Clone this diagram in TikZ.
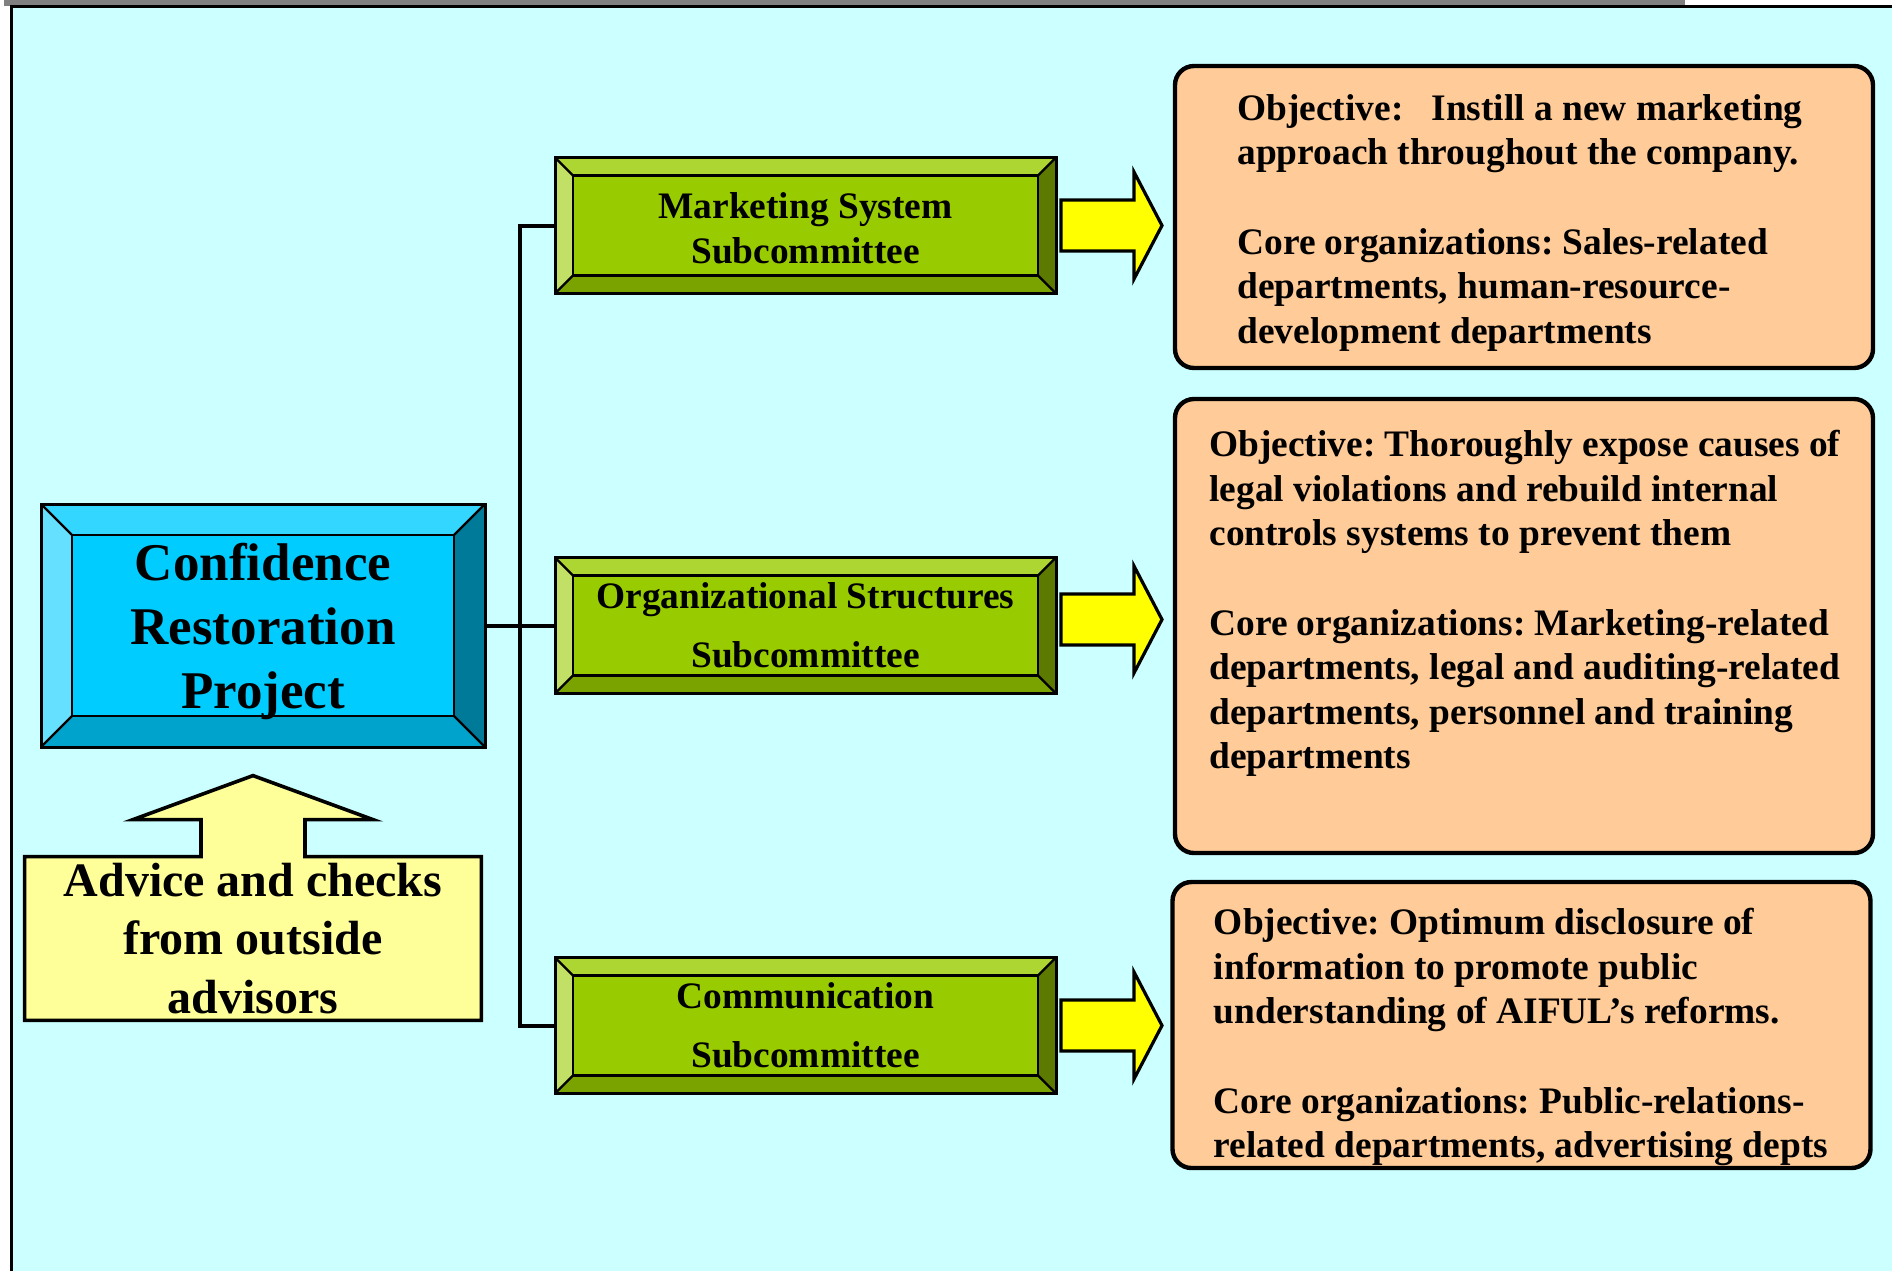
\documentclass[tikz,border=0pt]{standalone}
\usepackage{fontspec}
\setmainfont{Liberation Serif}
\usetikzlibrary{positioning, calc}
\definecolor{slideCyan}{HTML}{CCFFFF}
\definecolor{shadowGray}{HTML}{808080}
\definecolor{boxOrange}{HTML}{FFCC99}
\definecolor{arrowYellow}{HTML}{FFFF00}
\definecolor{adviceYellow}{HTML}{FFFF99}
% bevel shades, blue project box
\definecolor{bMid}{HTML}{00CCFF}
\definecolor{bTop}{HTML}{33D6FF}
\definecolor{bLeft}{HTML}{66E0FF}
\definecolor{bBot}{HTML}{00A3CC}
\definecolor{bRight}{HTML}{007A99}
% bevel shades, green subcommittees
\definecolor{gMid}{HTML}{99CC00}
\definecolor{gTop}{HTML}{ADD633}
\definecolor{gLeft}{HTML}{C2E066}
\definecolor{gBot}{HTML}{7AA300}
\definecolor{gRight}{HTML}{5C7A00}
\pgfdeclarelayer{back}
\pgfdeclarelayer{bevel}
\pgfsetlayers{back,bevel,main}

% #1 node, #2 bevel depth, #3 colour prefix
\newcommand{\bevelbox}[3]{%
  \begin{pgfonlayer}{bevel}
    \fill[#3Mid] (#1.north west) rectangle (#1.south east);
    \fill[#3Top] (#1.north west) -- (#1.north east) -- ([shift={(-#2,-#2)}]#1.north east) -- ([shift={(#2,-#2)}]#1.north west) -- cycle;
    \fill[#3Left] (#1.north west) -- ([shift={(#2,-#2)}]#1.north west) -- ([shift={(#2,#2)}]#1.south west) -- (#1.south west) -- cycle;
    \fill[#3Bot] (#1.south west) -- ([shift={(#2,#2)}]#1.south west) -- ([shift={(-#2,#2)}]#1.south east) -- (#1.south east) -- cycle;
    \fill[#3Right] (#1.north east) -- ([shift={(-#2,-#2)}]#1.north east) -- ([shift={(-#2,#2)}]#1.south east) -- (#1.south east) -- cycle;
    \draw[line width=1.2pt] ([shift={(#2,-#2)}]#1.north west) rectangle ([shift={(-#2,#2)}]#1.south east);
    \draw[line width=1.2pt] (#1.north west) -- ([shift={(#2,-#2)}]#1.north west)
      (#1.north east) -- ([shift={(-#2,-#2)}]#1.north east)
      (#1.south west) -- ([shift={(#2,#2)}]#1.south west)
      (#1.south east) -- ([shift={(-#2,#2)}]#1.south east);
  \end{pgfonlayer}}

% block arrow leaving a subcommittee, #2 lifts it
\newcommand{\yarrow}[2]{%
  \draw[yarr] ([shift={(2.5pt,12.75pt+#2)}]#1.east) -- ++(36.5pt,0pt) -- ++(0pt,14pt)
    -- ++(14pt,-26.75pt) -- ++(-14pt,-26.75pt) -- ++(0pt,14pt) -- ++(-36.5pt,0pt) -- cycle;}

\begin{document}
\frenchspacing
\begin{tikzpicture}[x=0.5pt, y=-0.5pt,
    bbox/.style={draw, line width=1.5pt, inner sep=0pt, outer sep=0pt, minimum width=222pt, minimum height=121.5pt, align=center, font=\fontsize{26.5}{32}\selectfont\bfseries},
    gbox/.style={draw, line width=1.5pt, inner sep=0pt, outer sep=0pt, minimum width=250.5pt, minimum height=68pt, align=center, font=\fontsize{18.7}{22.3}\selectfont\bfseries},
    obox/.style={draw, line width=2.2pt, rounded corners=9.5pt, fill=boxOrange, inner sep=0pt, outer sep=0pt, minimum width=349pt},
    otext/.style={align=left, inner sep=0pt, font=\fontsize{18.7}{22.3}\selectfont\bfseries},
    conn/.style={line width=2pt},
    yarr/.style={draw, line width=1.6pt, fill=arrowYellow},
    callout/.style={draw, line width=1.8pt, fill=adviceYellow}]
  \useasboundingbox (0,0) rectangle (1892,1271);
  \begin{pgfonlayer}{back}
    \fill[white] (0,0) rectangle (1892,1271);
    \fill[shadowGray] (4,0) rectangle (1685,6);
    \fill[slideCyan] (11.5,6.5) rectangle (1892,1271);
    \draw[line width=1.5pt] (11.5,1271) -- (11.5,6.5) -- (1892,6.5);
  \end{pgfonlayer}

  % project and subcommittees
  \node[bbox] (proj) at (263,625.5) {\rule{0pt}{25pt}Confidence\\Restoration\\Project};
  \node[gbox, right=35pt of proj] (org) {Organizational Structures\\[7pt]Subcommittee};
  \node[gbox, above=132pt of org] (mkt) {\rule{0pt}{16pt}Marketing System\\Subcommittee};
  \node[gbox, below=132pt of org] (com) {Communication\\[7pt]Subcommittee};
  \bevelbox{proj}{15.5pt}{b}
  \foreach \n in {mkt,org,com} {\bevelbox{\n}{9pt}{g}}

  \coordinate (trunk) at ($(proj.east)!0.5!(org.west)$);
  \draw[conn] (proj.east) -- (org.west);
  \draw[conn] (mkt.west) -| (trunk) |- (com.west);

  % outside advisors
  \node[align=center, inner sep=0pt, minimum width=228pt, minimum height=81.5pt,
        font=\fontsize{24}{29.3}\selectfont\bfseries] (advice) at (253,938.5)
        {Advice and checks\\from outside\\advisors};
  \begin{pgfonlayer}{bevel}
    \draw[callout] (advice.south west) -- (advice.north west) -- ([xshift=-26pt]advice.north)
      -- ([shift={(-26pt,18.5pt)}]advice.north) -- ([shift={(-60pt,18.5pt)}]advice.north)
      -- ([yshift=40.5pt]advice.north) -- ([shift={(60pt,18.5pt)}]advice.north)
      -- ([shift={(26pt,18.5pt)}]advice.north) -- ([xshift=26pt]advice.north)
      -- (advice.north east) -- (advice.south east) -- cycle;
  \end{pgfonlayer}

  % objectives
  \node[obox, minimum height=151pt] (objmkt) at (1524,217) {};
  \node[obox, minimum height=227pt] (objorg) at (1524,626) {};
  \node[obox, minimum height=143pt] (objcom) at (1521.5,1025) {};
  \node[otext, below right=14pt and 31pt of objmkt.north west] (txtmkt)
    {Objective:\ \ \ Instill a new marketing\\approach throughout the company.\\[22.3pt]Core organizations: Sales-related\\departments, human-resource-\\development departments};
  \node[otext, below right=15.5pt and 17pt of objorg.north west] (txtorg)
    {Objective: Thoroughly expose causes of\\legal violations and rebuild internal\\controls systems to prevent them\\[22.3pt]Core organizations: Marketing-related\\departments, legal and auditing-related\\departments, personnel and training\\departments};
  \node[otext, below right=13pt and 20.5pt of objcom.north west] (txtcom)
    {Objective: Optimum disclosure of\\information to promote public\\understanding of AIFUL’s reforms.\\[22.3pt]Core organizations: Public-relations-\\related departments, advertising depts};

  \foreach \n/\dy in {mkt/0pt,org/3pt,com/0pt} {\yarrow{\n}{\dy}}
\end{tikzpicture}
\end{document}
